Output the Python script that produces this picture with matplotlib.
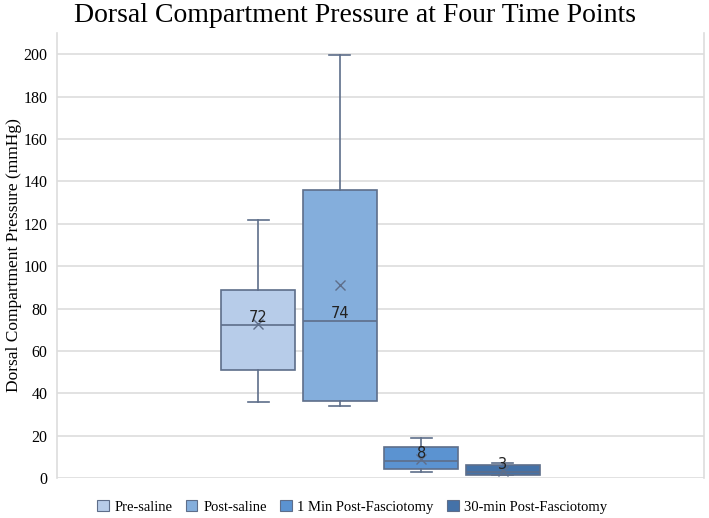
import matplotlib
matplotlib.use("Agg")
import matplotlib.pyplot as plt
from matplotlib.patches import Patch

# box statistics (mmHg)
groups = ["Pre-saline", "Post-saline", "1 Min Post-Fasciotomy", "30-min Post-Fasciotomy"]
medians = [72, 74, 8, 3]
q1 = [50.9, 36.5, 4.2, 1.6]
q3 = [88.7, 135.8, 14.5, 6.1]
whisker_low = [36, 34, 3, 1.6]
whisker_high = [122, 199.5, 19, 6.9]
means = [72.5, 91, 9, 3.5]
colors = ["#B7CCE9", "#84AEDC", "#5B93D1", "#4472A8"]
edge = "#5E6E8A"

plt.rcParams["font.family"] = ["Liberation Serif", "DejaVu Serif"]

fig = plt.figure(figsize=(7.09, 5.18), dpi=100)
ax = fig.add_axes([0.0804, 0.0772, 0.9126, 0.8588])

stats = []
for i, g in enumerate(groups):
    stats.append(dict(label=g, med=medians[i], q1=q1[i], q3=q3[i],
                      whislo=whisker_low[i], whishi=whisker_high[i],
                      mean=means[i], fliers=[]))

pos = list(range(len(groups)))
bp = ax.bxp(stats, positions=pos, widths=0.91, patch_artist=True, showmeans=True,
            boxprops=dict(edgecolor=edge, linewidth=1.2),
            medianprops=dict(color=edge, linewidth=1.2),
            whiskerprops=dict(color=edge, linewidth=1.2),
            capprops=dict(color=edge, linewidth=1.2),
            meanprops=dict(marker="x", markeredgecolor=edge, markersize=7, markeredgewidth=1))
for patch, c in zip(bp["boxes"], colors):
    patch.set_facecolor(c)
for cap in bp["caps"]:
    x = cap.get_xdata()
    m = (x[0] + x[1]) / 2
    cap.set_xdata([m - 0.13, m + 0.13])

for p, m in zip(pos, medians):
    ax.text(p, m, str(m), ha="center", va="bottom", fontsize=10.5, color="#222222",
            family=["DejaVu Sans"])

ax.set_xlim(-2.47, 5.47)
ax.set_ylim(0, 210)
ax.set_yticks(range(0, 201, 20))
ax.set_xticks([])
ax.tick_params(axis="y", length=0, labelsize=11.5, pad=7)
ax.grid(axis="y", color="#DDDDDD", linewidth=1.2)
ax.set_axisbelow(True)
for s in ["top", "bottom"]:
    ax.spines[s].set_visible(False)
for s in ["left", "right"]:
    ax.spines[s].set_color("#DDDDDD")
    ax.spines[s].set_linewidth(1.2)

fig.text(14 / 709, 0.508, "Dorsal Compartment Pressure (mmHg)", rotation=90,
         ha="center", va="center", fontsize=12.5)

fig.text(0.5, 0.971, "Dorsal Compartment Pressure at Four Time Points",
         ha="center", va="center", fontsize=20)

handles = [Patch(facecolor=c, edgecolor=edge, linewidth=0.8) for c in colors]
fig.legend(handles, groups, loc="center", bbox_to_anchor=(0.497, 0.021), ncol=4,
           frameon=False, fontsize=10.5, handlelength=0.8, handleheight=0.8,
           handletextpad=0.4, columnspacing=0.9)

fig.savefig("out.png", dpi=100)
